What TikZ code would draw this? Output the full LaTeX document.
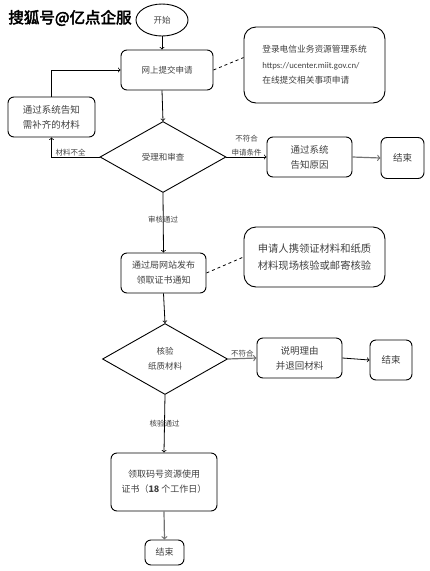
\documentclass[tikz,border=0pt]{standalone}
\usepackage{fontspec}
\setmainfont{Noto Sans CJK SC}
\newfontfamily\latinfont{Carlito}
\newfontfamily\markfont[FakeBold=3]{Noto Sans CJK SC}
\usetikzlibrary{shapes.geometric}
\tikzset{
  box/.style={draw, line width=0.9pt, rounded corners=6pt, align=center, inner sep=0pt,
    text=black!75, font=\fontsize{9}{15}\selectfont},
  bigtext/.style={font=\fontsize{9.5}{15}\selectfont},
  notebox/.style={box, rounded corners=12pt},
  decide/.style={draw, line width=0.9pt, diamond, inner sep=0pt, align=center,
    text=black!75, font=\fontsize{8.5}{15}\selectfont},
  flow/.style={->, line width=0.8pt},
  grayflow/.style={->, line width=1.2pt, black!55},
  label/.style={text=black!75, font=\fontsize{7.5}{14}\selectfont, inner sep=1pt, align=center}
}
\begin{document}
\begin{tikzpicture}[x=1pt, y=-1pt]
  \useasboundingbox (0,0) rectangle (429,571);
  \node[font=\markfont\fontsize{15.5}{15}\selectfont] (mark) at (70,18) {搜狐号@亿点企服};
  \node[draw, line width=0.9pt, ellipse, minimum width=52, minimum height=32, inner sep=0pt,
    font=\fontsize{8.5}{15}\selectfont, text=black!75] (start) at (162,20) {开始};
  \node[box, minimum width=92, minimum height=40, font=\fontsize{8.5}{15}\selectfont] (apply) at (167,70) {网上提交申请};
  \node[notebox, minimum width=141, minimum height=76, align=left, font=\fontsize{8.7}{15.5}\selectfont] (note1) at (314.5,65)
    {登录电信业务资源管理系统\\{\latinfont https://ucenter.miit.gov.cn/}\\在线提交相关事项申请};
  \node[box, bigtext, minimum width=87, minimum height=40] (supply) at (51.5,117) {通过系统告知\\需补齐的材料};
  \node[decide, minimum width=126, minimum height=71] (review) at (163,157) {受理和审查};
  \node[box, bigtext, minimum width=85, minimum height=40] (reason) at (309.5,157) {通过系统\\告知原因};
  \node[box, bigtext, minimum width=43, minimum height=41] (end1) at (402.5,158) {结束};
  \node[box, minimum width=85, minimum height=40] (notice) at (163.5,273) {通过局网站发布\\领取证书通知};
  \node[notebox, minimum width=141, minimum height=60, font=\fontsize{10.3}{17}\selectfont] (note2) at (314.5,257)
    {申请人携领证材料和纸质\\材料现场核验或邮寄核验};
  \node[decide, minimum width=125, minimum height=71] (verify) at (165,359) {核验\\纸质材料};
  \node[box, bigtext, minimum width=85, minimum height=40] (back) at (299.5,358) {说明理由\\并退回材料};
  \node[box, bigtext, minimum width=42, minimum height=40] (end2) at (391,360) {结束};
  \node[box, minimum width=106, minimum height=58] (cert) at (164,482) {领取码号资源使用\\证书（\textbf{18} 个工作日）};
  \node[box, minimum width=39, minimum height=25] (end3) at (164.5,552.5) {结束};

  \draw[flow] (start.south) -- (start.south |- apply.north);
  \draw[flow] (start.south |- apply.south) -- (review.north);
  \draw[dashed, line width=0.8pt] (apply.east) -- (note1.174);
  \draw[flow] (review.west) -| node[label, pos=0.3, above] {材料不全} (supply.south);
  \draw[flow] (supply.north) |- (apply.west);
  \draw[flow] (review.east) -- node[label, above] {不符合\\申请条件} (reason.west);
  \draw[grayflow] (reason.east) -- (end1.west);
  \draw[flow] (review.south) -- node[label, pos=0.45] {审核通过} (notice.north);
  \draw[dashed, line width=0.8pt] (notice.east) -- (note2.west);
  \draw[flow] (notice.south) -- (verify.north);
  \draw[grayflow] (verify.east) -- node[label, above] {不符合} (back.west);
  \draw[flow] (back.east) -- (end2.west);
  \draw[flow] (verify.south) -- node[label, pos=0.5] {核验通过} (cert.north);
  \draw[grayflow] (cert.south) -- (end3.north);
\end{tikzpicture}
\end{document}
